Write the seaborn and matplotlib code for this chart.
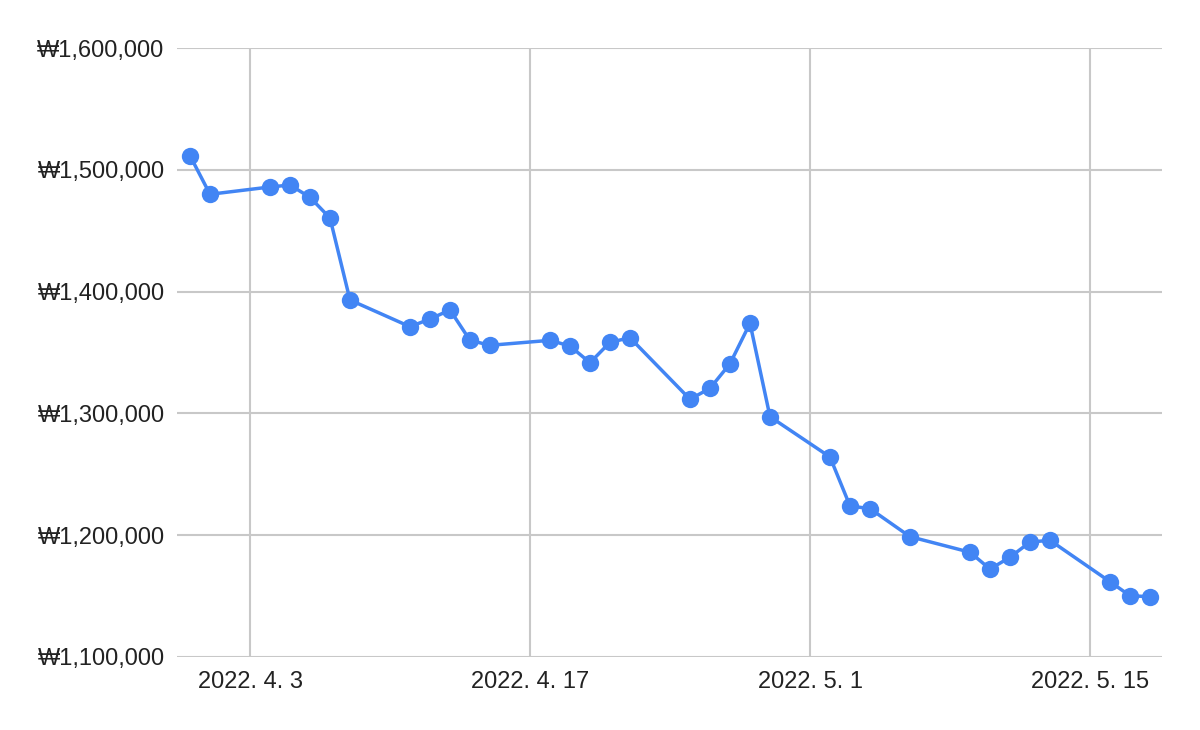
import pandas as pd
import matplotlib.pyplot as plt
import matplotlib.dates as mdates
import matplotlib.ticker as mticker
import seaborn as sns

# ==============================
# DATA
# ==============================

dates = [
    "2022-03-31", "2022-04-01", "2022-04-04", "2022-04-05", "2022-04-06",
    "2022-04-07", "2022-04-08", "2022-04-11", "2022-04-12", "2022-04-13",
    "2022-04-14", "2022-04-15", "2022-04-18", "2022-04-19", "2022-04-20",
    "2022-04-21", "2022-04-22", "2022-04-25", "2022-04-26", "2022-04-27",
    "2022-04-28", "2022-04-29", "2022-05-02", "2022-05-03", "2022-05-04",
    "2022-05-06", "2022-05-09", "2022-05-10", "2022-05-11", "2022-05-12",
    "2022-05-13", "2022-05-16", "2022-05-17", "2022-05-18",
]

prices = [
    1511600, 1479900, 1485900, 1487500, 1477400,
    1460400, 1393100, 1371200, 1377500, 1384900,
    1360000, 1355900, 1360000, 1355300, 1341600,
    1358400, 1362100, 1311600, 1320600, 1340800,
    1374000, 1297300, 1264200, 1224000, 1221800,
    1198800, 1186000, 1172200, 1181900, 1194400,
    1195800, 1161800, 1150300, 1149500,
]

x_ticks = ["2022-04-03", "2022-04-17", "2022-05-01", "2022-05-15"]
y_ticks = [1100000, 1200000, 1300000, 1400000, 1500000, 1600000]

df = pd.DataFrame({"date": pd.to_datetime(dates), "price": prices})

# ==============================
# STYLE
# ==============================

sns.set_style("white")
plt.rcParams["font.family"] = ["Liberation Sans", "DejaVu Sans"]

line_color = "#4285F4"
grid_color = "#c8c8c8"
text_color = "#222222"

fig = plt.figure(figsize=(12, 7.3), dpi=100)
ax = fig.add_axes([177 / 1200, (730 - 657) / 730, (1162 - 177) / 1200, (657 - 48) / 730])

sns.lineplot(
    data=df,
    x="date",
    y="price",
    ax=ax,
    color=line_color,
    linewidth=2.5,
    marker="o",
    markersize=12.5,
    markeredgewidth=0,
    zorder=3,
)

# ==============================
# AXES
# ==============================

ax.set_xlim(pd.Timestamp("2022-04-03") - pd.Timedelta(days=3.65),
            pd.Timestamp("2022-04-03") + pd.Timedelta(days=45.6))
ax.set_ylim(1100000, 1600000)

ax.set_xticks(pd.to_datetime(x_ticks))
ax.xaxis.set_major_formatter(
    mticker.FuncFormatter(lambda v, p: "{0}. {1}. {2}".format(
        mdates.num2date(v).year, mdates.num2date(v).month, mdates.num2date(v).day))
)
ax.set_yticks(y_ticks)
ax.yaxis.set_major_formatter(mticker.FuncFormatter(lambda v, p: "₩{:,.0f}".format(v)))

ax.grid(True, color=grid_color, linewidth=1.5, zorder=0)
ax.set_axisbelow(True)
for side in ["top", "right", "left", "bottom"]:
    ax.spines[side].set_visible(False)

ax.tick_params(axis="both", length=0, labelsize=17, colors=text_color)
ax.tick_params(axis="x", pad=10)
ax.tick_params(axis="y", pad=9)
ax.set_xlabel("")
ax.set_ylabel("")

plt.savefig("out.png", dpi=100)
